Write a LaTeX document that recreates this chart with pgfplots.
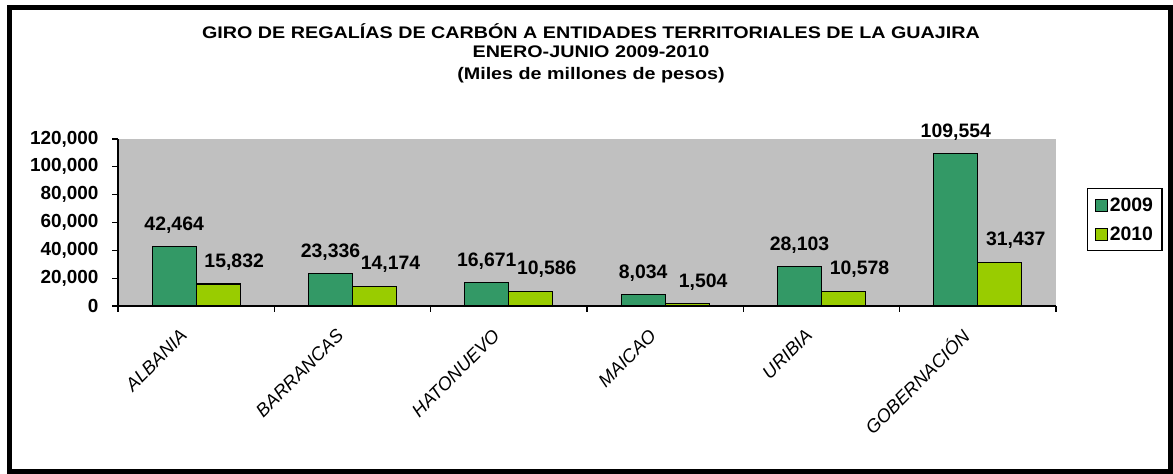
\documentclass[border=0pt]{standalone}
\usepackage{graphicx}
\usepackage{pgfplots}
\pgfplotsset{compat=1.18}
\usepackage{fontspec}
\setmainfont{Liberation Sans}
\definecolor{c09}{HTML}{339966}
\definecolor{c10}{HTML}{99CC00}
\definecolor{bg}{HTML}{C0C0C0}
\pgfplotsset{sqleg/.style={legend image code/.code={\draw[##1, line width=1.2bp] (0bp,-6bp) rectangle (12bp,6bp);}}}
\begin{document}
\begin{tikzpicture}[x=1bp,y=1bp]
\useasboundingbox (0,0) rectangle (1173,474);
\begin{axis}[
  at={(118bp,168bp)}, anchor=south west,
  scale only axis, width=938bp, height=167bp,
  xmin=-0.5, xmax=5.5, ymin=0, ymax=120000,
  axis x line*=bottom, axis y line*=left,
  axis line style={line width=1.2bp, -},
  axis background/.style={fill=bg},
  ybar=0pt, bar width=44bp,
  xtick={0,...,5},
  xticklabels={ALBANIA,BARRANCAS,HATONUEVO,MAICAO,URIBIA,GOBERNACIÓN},
  major x tick style={draw=none},
  minor xtick={-0.5,0.5,...,5.5},
  ytick={0,20000,...,120000},
  tick align=outside,
  major tick length=6bp, minor tick length=6bp,
  tick style={line width=1.2bp, black},
  scaled ticks=false,
  /pgf/number format/assume math mode=true,
  yticklabel style={/pgf/number format/.cd, fixed, precision=0, 1000 sep={,}, /tikz/.cd, font=\bfseries\fontsize{19}{21}\selectfont, xshift=-10bp},
  xticklabel style={font=\itshape\fontsize{18.5}{21}\selectfont, xshift=-10bp, yshift=-18bp, rotate=45, anchor=east},
  nodes near coords={\pgfmathprintnumber[fixed,precision=0,1000 sep={,},assume math mode=true]{\pgfplotspointmeta}},
  every node near coord/.append style={font=\bfseries\fontsize{19.5}{21}\selectfont, anchor=base, yshift=16.5bp, black},
  legend style={at={(1.033,0.7066)}, anchor=north west, draw=black, line width=1.2bp, font=\bfseries\fontsize{19.5}{21}\selectfont, row sep=10bp, inner xsep=7bp, inner ysep=7bp},
  legend cell align=left,
]
\addplot[fill=c09, draw=black, line width=1.2bp, sqleg] coordinates {(0,42464) (1,23336) (2,16671) (3,8034) (4,28103) (5,109554)};
\addplot[fill=c10, draw=black, line width=1.2bp, sqleg, every node near coord/.append style={xshift=16bp}] coordinates {(0,15832) (1,14174) (2,10586) (3,1504) (4,10578) (5,31437)};
\legend{2009,2010}
\end{axis}
\node[anchor=base, font=\bfseries\fontsize{19.8}{21}\selectfont] at (591,435) {\scalebox{1}[0.85]{GIRO DE REGALÍAS DE CARBÓN A ENTIDADES TERRITORIALES DE LA GUAJIRA}};
\node[anchor=base, font=\bfseries\fontsize{19.8}{21}\selectfont] at (591,416) {\scalebox{1}[0.85]{ENERO-JUNIO 2009-2010}};
\node[anchor=base, font=\bfseries\fontsize{19.8}{21}\selectfont] at (591,394) {\scalebox{1}[0.85]{(Miles de millones de pesos)}};
\draw[line width=5bp] (9.5,2.5) rectangle (1170.5,466);
\end{tikzpicture}
\end{document}
